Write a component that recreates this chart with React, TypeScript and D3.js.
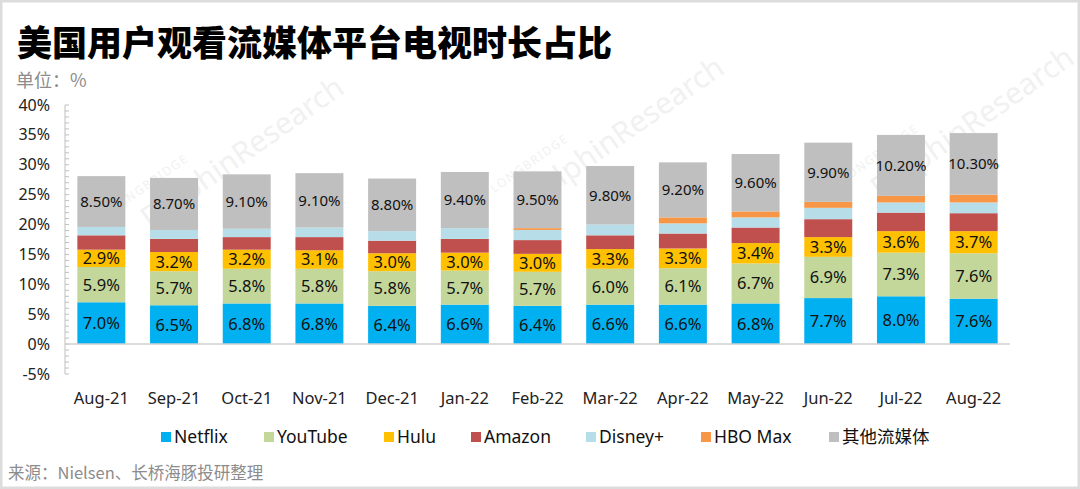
import React from "react";
import * as d3 from "d3";

const months = ["Aug-21","Sep-21","Oct-21","Nov-21","Dec-21","Jan-22","Feb-22","Mar-22","Apr-22","May-22","Jun-22","Jul-22","Aug-22"];
const netflix = [7.0,6.5,6.8,6.8,6.4,6.6,6.4,6.6,6.6,6.8,7.7,8.0,7.6];
const youtube = [5.9,5.7,5.8,5.8,5.8,5.7,5.7,6.0,6.1,6.7,6.9,7.3,7.6];
const hulu = [2.9,3.2,3.2,3.1,3.0,3.0,3.0,3.3,3.3,3.4,3.3,3.6,3.7];
const amazon = [2.4,2.2,2.1,2.2,2.1,2.3,2.3,2.3,2.5,2.6,3.0,3.1,3.0];
const disney = [1.4,1.5,1.4,1.6,1.6,1.8,1.7,1.8,1.7,1.7,1.9,1.7,1.8];
const hboMax = [0,0,0,0,0,0,0.3,0,1.0,1.0,1.0,1.1,1.3];
const others = [8.5,8.7,9.1,9.1,8.8,9.4,9.5,9.8,9.2,9.6,9.9,10.2,10.3];
const yTicks = [-5,0,5,10,15,20,25,30,35,40];

const seriesNames = ["Netflix","YouTube","Hulu","Amazon","Disney+","HBO Max","其他流媒体"];
const seriesColors = ["#00B0F0","#C4D79B","#FFC000","#C0504D","#B7DEE8","#F79646","#BFBFBF"];
const seriesValues = [netflix,youtube,hulu,amazon,disney,hboMax,others];
const labelled = [0,1,2,6];
const legendX = [161,264,384,471,586,701,829];

const W = 1080, H = 489;
const FONT = "'Noto Sans', 'Open Sans', sans-serif";
const CJK = "'Noto Sans CJK SC', 'Noto Sans', sans-serif";

export default function App() {
  const x = d3.scaleBand<string>().domain(months).range([65, 1010]).paddingInner(0.34).paddingOuter(0.17);
  const y = d3.scaleLinear().domain([-5, 40]).range([374, 105]);
  const rows = months.map((m, i) => {
    const r: any = { month: m };
    seriesNames.forEach((s, k) => (r[s] = seriesValues[k][i]));
    return r;
  });
  const stacked = d3.stack<any>().keys(seriesNames)(rows);
  const minor = d3.range(-5, 41, 1);

  const wm = [[200, 170], [580, 150], [930, 140]];

  return (
    <svg width={W} height={H} style={{ position: "fixed", left: 0, top: 0, background: "#fff" }}>
      <rect x={0} y={0} width={W} height={H} fill="#fff" />
      <rect x={1} y={1} width={W - 2} height={H - 2} fill="none" stroke="#dcdcdc" strokeWidth={3} />
      {/* watermarks */}
      {wm.map(([cx, cy], i) => (
        <g key={i} transform={`translate(${cx},${cy}) rotate(-35)`} fill="#f1f1f1">
          <text x={-95} y={-14} fontFamily={FONT} fontSize={12} letterSpacing={1.5}>LONGBRIDGE</text>
          <text x={-75} y={20} fontFamily={FONT} fontSize={30}>DolphinResearch</text>
        </g>
      ))}
      <text x={17} y={56} fontFamily={CJK} fontWeight={900} fontSize={35} fill="#000">美国用户观看流媒体平台电视时长占比</text>
      <text x={16} y={87} fontFamily={CJK} fontSize={18} fill="#8c8c8c">单位：%</text>

      {/* y axis */}
      <line x1={65} x2={65} y1={y(40)} y2={y(-5)} stroke="#bfbfbf" strokeWidth={1} />
      {minor.map((t) => (
        <line key={t} x1={65} x2={69} y1={y(t)} y2={y(t)} stroke="#bfbfbf" strokeWidth={1} />
      ))}
      {yTicks.map((t) => (
        <text key={t} x={50} y={y(t)} dy="0.35em" textAnchor="end" fontFamily={FONT} fontSize={16} fill="#222">{`${t}%`}</text>
      ))}

      {/* bars */}
      {stacked.map((layer, k) => (
        <g key={layer.key} fill={seriesColors[k]}>
          {layer.map((d, i) => (
            d[1] - d[0] > 0 ? (
              <rect key={i} x={x(months[i])} width={x.bandwidth()} y={y(d[1])} height={y(d[0]) - y(d[1])} />
            ) : null
          ))}
        </g>
      ))}
      <line x1={65} x2={1010} y1={y(0)} y2={y(0)} stroke="#d0d0d0" strokeWidth={1.5} />

      {/* labels */}
      {labelled.map((k) => (
        <g key={k}>
          {stacked[k].map((d, i) => (
            <text key={i} x={(x(months[i]) as number) + x.bandwidth() / 2} y={(y(d[0]) + y(d[1])) / 2} dy="0.36em"
              textAnchor="middle" fontFamily={FONT} fontSize={k === 6 ? 15 : 16.5} fill="#111">
              {k === 6 ? `${seriesValues[k][i].toFixed(2)}%` : `${seriesValues[k][i].toFixed(1)}%`}
            </text>
          ))}
        </g>
      ))}

      {/* x labels */}
      {months.map((m) => (
        <text key={m} x={(x(m) as number) + x.bandwidth() / 2} y={398} dy="0.35em" textAnchor="middle" fontFamily={FONT} fontSize={16.5} fill="#222">{m}</text>
      ))}

      {/* legend */}
      {seriesNames.map((s, k) => (
        <g key={s} transform={`translate(${legendX[k]},437)`}>
          <rect x={0} y={-5} width={10} height={10} fill={seriesColors[k]} />
          <text x={13} y={0} dy="0.36em" fontFamily={k === 6 ? CJK : FONT} fontSize={17.5} fill="#111">{s}</text>
        </g>
      ))}

      <text x={8} y={473} dy="0.35em" fontFamily={CJK} fontSize={16.5} fill="#8c8c8c">来源：Nielsen、长桥海豚投研整理</text>
    </svg>
  );
}
